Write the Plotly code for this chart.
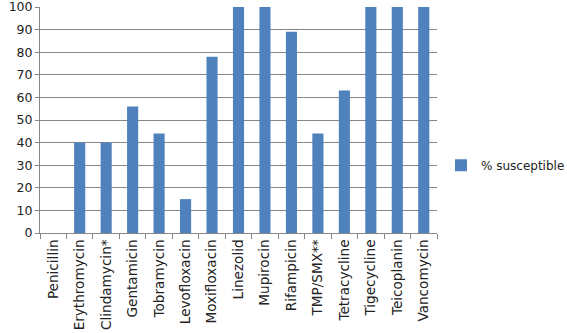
import plotly.graph_objects as go

categories = ["Penicillin", "Erythromycin", "Clindamycin*", "Gentamicin", "Tobramycin",
              "Levofloxacin", "Moxifloxacin", "Linezolid", "Mupirocin", "Rifampicin",
              "TMP/SMX**", "Tetracycline", "Tigecycline", "Teicoplanin", "Vancomycin"]
susceptible = [0, 40, 40, 56, 44, 15, 78, 100, 100, 89, 44, 63, 100, 100, 100]

fig = go.Figure()
fig.add_trace(go.Bar(x=categories, y=susceptible, name="% susceptible",
                     marker=dict(color="#4F81BD", line=dict(width=0)),
                     showlegend=True))

fig.update_layout(
    width=567, height=333,
    margin=dict(l=40, r=130, t=7, b=100, autoexpand=False),
    paper_bgcolor="white", plot_bgcolor="white",
    bargap=0.58,
    font=dict(family="DejaVu Sans", size=12, color="#222"),
    showlegend=True,
    legend=dict(x=1.01, y=0.30, xanchor="left", yanchor="middle",
                font=dict(size=12), bgcolor="rgba(0,0,0,0)"),
    xaxis=dict(tickangle=-90, tickson="boundaries", ticks="outside", ticklen=5,
               tickcolor="#868686", showline=True, linecolor="#868686",
               showgrid=False, tickfont=dict(size=13.6), automargin=False),
    yaxis=dict(range=[0, 100], dtick=10, tick0=0, showgrid=True, gridcolor="#868686",
               ticks="outside", ticklen=4, tickcolor="#868686",
               showline=True, linecolor="#868686", zeroline=False,
               tickfont=dict(size=12.5), automargin=False,
               ticklabeloverflow="allow"),
)
fig.write_html("out.html", config={"displayModeBar": False},
               post_script="document.body.style.margin='0';document.body.style.padding='0';")
